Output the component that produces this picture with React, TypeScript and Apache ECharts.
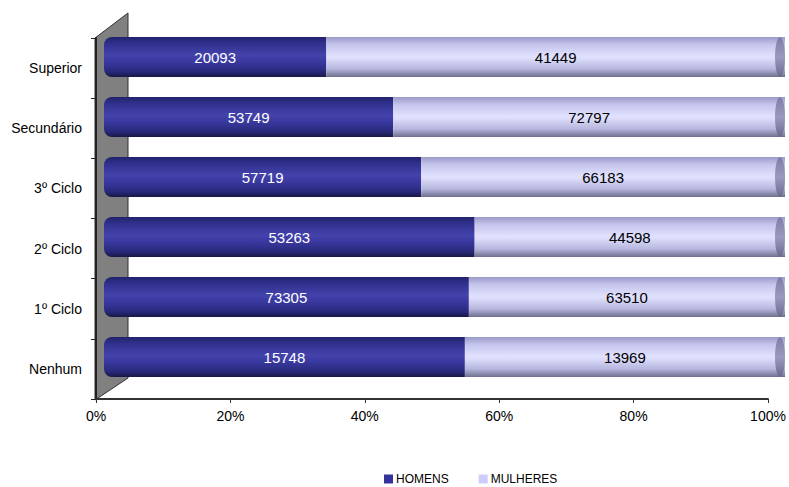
import React, { useEffect, useRef } from "react";
import * as echarts from "echarts";

const categories = ["Nenhum", "1º Ciclo", "2º Ciclo", "3º Ciclo", "Secundário", "Superior"];
const homens = [15748, 73305, 53263, 57719, 53749, 20093];
const mulheres = [13969, 63510, 44598, 66183, 72797, 41449];
const seriesNames = ["HOMENS", "MULHERES"];

export default function App() {
  const ref = useRef<HTMLDivElement>(null);
  useEffect(() => {
    if (!ref.current) return;
    const chart = echarts.init(ref.current, null, { renderer: "svg" });
    const totals = homens.map((h, i) => h + mulheres[i]);
    const pctH = homens.map((h, i) => (h / totals[i]) * 100);
    const pctM = mulheres.map((m, i) => (m / totals[i]) * 100);
    const darkGrad = new echarts.graphic.LinearGradient(0, 0, 0, 1, [
      { offset: 0, color: "#22226a" },
      { offset: 0.15, color: "#2f2f8c" },
      { offset: 0.45, color: "#4343ab" },
      { offset: 0.6, color: "#3a3aa2" },
      { offset: 0.85, color: "#2a2a7e" },
      { offset: 1, color: "#181848" },
    ]);
    const lightGrad = new echarts.graphic.LinearGradient(0, 0, 0, 1, [
      { offset: 0, color: "#9a9ac8" },
      { offset: 0.2, color: "#c6c6ee" },
      { offset: 0.5, color: "#e2e2ff" },
      { offset: 0.8, color: "#b6b6de" },
      { offset: 1, color: "#6e6e8e" },
    ]);
    const capGrad = new echarts.graphic.LinearGradient(0, 0, 0, 1, [
      { offset: 0, color: "#7c7ca6" },
      { offset: 0.5, color: "#9a9ac0" },
      { offset: 1, color: "#6a6a8c" },
    ]);
    const font = "'Liberation Sans', Arial, sans-serif";
    chart.setOption({
      animation: false,
      backgroundColor: "#ffffff",
      textStyle: { fontFamily: font },
      grid: [
        { left: 104, right: 4, top: 27, height: 360 },
        { left: 96, right: 21, top: 38, height: 361 },
      ],
      xAxis: [
        { gridIndex: 0, type: "value", min: 0, max: 100, show: false },
        {
          gridIndex: 1,
          type: "value",
          min: 0,
          max: 100,
          interval: 20,
          axisLine: { show: true, lineStyle: { color: "#333", width: 2 } },
          axisTick: { show: true, length: 4, lineStyle: { color: "#333" } },
          splitLine: { show: false },
          axisLabel: { formatter: "{value}%", color: "#000", fontSize: 14, margin: 10 },
        },
      ],
      yAxis: [
        { gridIndex: 0, type: "category", data: categories, show: false },
        {
          gridIndex: 1,
          type: "category",
          data: categories,
          axisLine: { show: true, lineStyle: { color: "#222", width: 2 } },
          axisTick: { show: true, length: 5, lineStyle: { color: "#222" } },
          axisLabel: { color: "#000", fontSize: 14, margin: 14 },
        },
      ],
      graphic: [
        {
          type: "polygon",
          z: 0,
          shape: { points: [[95, 38], [128, 13], [128, 378], [95, 400]] },
          style: { fill: "#808080", stroke: "#333", lineWidth: 1 },
        },
      ],
      legend: {
        top: 468,
        left: 379,
        itemWidth: 9,
        itemHeight: 9,
        itemGap: 30,
        icon: "rect",
        textStyle: { fontSize: 12, color: "#000", padding: [0, 0, 0, -2] },
        data: [
          { name: seriesNames[0], itemStyle: { color: "#333399" } },
          { name: seriesNames[1], itemStyle: { color: "#ccccff" } },
        ],
      },
      series: [
        {
          name: seriesNames[0],
          type: "bar",
          stack: "total",
          xAxisIndex: 0,
          yAxisIndex: 0,
          barWidth: 40,
          z: 3,
          data: pctH,
          itemStyle: { color: darkGrad, borderRadius: [8, 0, 0, 8] },
          label: {
            show: true,
            position: "inside",
            color: "#fff",
            fontSize: 15,
            formatter: (p: any) => String(homens[p.dataIndex]),
          },
        },
        {
          name: seriesNames[1],
          type: "bar",
          stack: "total",
          xAxisIndex: 0,
          yAxisIndex: 0,
          barWidth: 40,
          z: 3,
          data: pctM,
          itemStyle: { color: lightGrad },
          label: {
            show: true,
            position: "inside",
            color: "#000",
            fontSize: 15,
            formatter: (p: any) => String(mulheres[p.dataIndex]),
          },
        },
        {
          name: "cap",
          type: "custom",
          xAxisIndex: 0,
          yAxisIndex: 0,
          z: 4,
          silent: true,
          data: categories.map((_, i) => [100, i]),
          renderItem: (params: any, api: any) => {
            const p = api.coord([api.value(0), api.value(1)]);
            return {
              type: "ellipse",
              shape: { cx: p[0] - 5, cy: p[1], rx: 5, ry: 20 },
              style: { fill: capGrad },
            };
          },
        },
      ],
    });
    return () => chart.dispose();
  }, []);
  return (
    <div
      ref={ref}
      style={{ position: "fixed", left: 0, top: 0, width: 789, height: 487 }}
    />
  );
}
